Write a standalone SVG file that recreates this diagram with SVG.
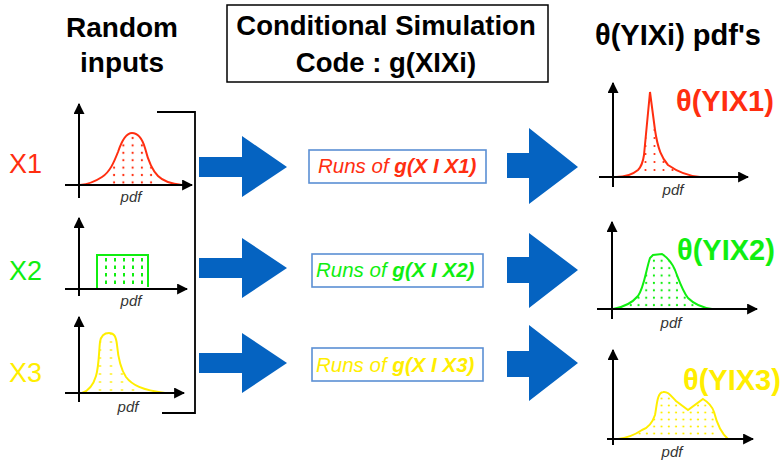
<svg xmlns="http://www.w3.org/2000/svg" width="784" height="462" viewBox="0 0 784 462">
<style>
.hd{font-family:"Liberation Sans",Arial,sans-serif;font-weight:bold;fill:#000;text-anchor:middle}
.xl{font-family:"Liberation Sans",Arial,sans-serif;font-size:27px}
.pdf{font-family:"Liberation Sans",Arial,sans-serif;font-size:15px;font-style:italic;fill:#333;text-anchor:middle}
.th{font-family:"Liberation Sans",Arial,sans-serif;font-weight:bold;font-size:29px}
.ax{stroke:#000;stroke-width:2;fill:none}
.box{fill:#fff;stroke:#5B8FD4;stroke-width:1.6}
.rt{font-family:"Liberation Sans",Arial,sans-serif;font-size:20.5px;font-style:italic}
.arr{fill:#0563C1}
.red{stroke:#FF2E10;fill:none;stroke-width:2}
.grn{stroke:#10EE10;fill:none;stroke-width:2}
.yel{stroke:#FFEE00;fill:none;stroke-width:2}
</style>
<defs>
<marker id="ah" viewBox="0 0 10 10" refX="9" refY="5" markerWidth="5.5" markerHeight="5.5" orient="auto" markerUnits="strokeWidth"><path d="M0,0 L10,5 L0,10 z" fill="#000"/></marker>
<pattern id="dR1" patternUnits="userSpaceOnUse" x="109.5" y="134.3" width="9.25" height="7.4"><circle cx="4.6" cy="3.7" r="1.1" fill="#FF2E10"/></pattern>
<pattern id="dR2" patternUnits="userSpaceOnUse" x="641" y="134" width="9" height="8"><circle cx="4.5" cy="4" r="1.1" fill="#FF2E10"/></pattern>
<pattern id="dG" patternUnits="userSpaceOnUse" x="627" y="257" width="7.7" height="7.4"><circle cx="3.8" cy="3.7" r="1.1" fill="#10EE10"/></pattern>
<pattern id="dY1" patternUnits="userSpaceOnUse" x="94.5" y="338" width="11" height="8"><circle cx="5.5" cy="4" r="1.1" fill="#FFEE00"/></pattern>
<pattern id="dY2" patternUnits="userSpaceOnUse" x="636" y="395" width="7.3" height="7"><circle cx="3.6" cy="3.5" r="1.1" fill="#FFEE00"/></pattern>
<clipPath id="cR1"><rect x="110" y="120" width="46" height="64"/></clipPath>
<clipPath id="cR2"><rect x="642" y="120" width="36" height="56"/></clipPath>
<clipPath id="cG"><rect x="628" y="250" width="70" height="58"/></clipPath>
<clipPath id="cY1"><rect x="96" y="330" width="42" height="62"/></clipPath>
<clipPath id="cY2"><rect x="638" y="385" width="80" height="53"/></clipPath>
</defs>

<g id="title-random">
<text class="hd" x="122" y="37" font-size="28">Random</text>
<text class="hd" x="122" y="72" font-size="28">inputs</text>
</g>
<g id="title-code">
<rect x="227" y="5" width="321" height="77" fill="#fff" stroke="#000" stroke-width="1.5"/>
<text class="hd" x="386" y="35" font-size="27.5">Conditional Simulation</text>
<text class="hd" x="386" y="72" font-size="27.5">Code : g(XIXi)</text>
</g>
<g id="title-theta">
<text class="hd" x="678" y="45" font-size="29">θ(YIXi) pdf's</text>
</g>

<g id="x1">
<text class="xl" x="9" y="173" fill="#FF2E10">X1</text>
<path d="M80,185 C90,184 96,181 102,177 C110,172 114,162 118,152 C122,140 126,133 132,133 C138,133 142,138 145,148 C148,160 152,170 158,176 C164,182 172,184 182,185 L80,185 z" fill="url(#dR1)" clip-path="url(#cR1)"/>
<path class="red" d="M72,185 L80,185 C90,184 96,181 102,177 C110,172 114,162 118,152 C122,140 126,133 132,133 C138,133 142,138 145,148 C148,160 152,170 158,176 C164,182 172,184 182,185"/>
<line class="ax" x1="79" y1="198" x2="79" y2="104" marker-end="url(#ah)"/>
<line class="ax" x1="65" y1="185" x2="192" y2="185" marker-end="url(#ah)"/>
<text class="pdf" x="131" y="202">pdf</text>
</g>

<g id="x2">
<text class="xl" x="9" y="280" fill="#10EE10">X2</text>
<path class="grn" d="M97,289 V255 H148 V287"/>
<g class="grn" stroke-dasharray="3.5,4">
<line x1="106" y1="258" x2="106" y2="289"/>
<line x1="115" y1="258" x2="115" y2="289"/>
<line x1="124" y1="258" x2="124" y2="289"/>
<line x1="133" y1="258" x2="133" y2="289"/>
<line x1="142" y1="258" x2="142" y2="289"/>
</g>
<line class="ax" x1="79" y1="296" x2="79" y2="218" marker-end="url(#ah)"/>
<line class="ax" x1="65" y1="289" x2="187" y2="289" marker-end="url(#ah)"/>
<text class="pdf" x="131" y="306">pdf</text>
</g>

<g id="x3">
<text class="xl" x="9" y="382" fill="#FFEE00">X3</text>
<path d="M82,393 C88,391 93,386 96,376 C99,366 99,350 100,342 C101,336 104,333 109,333 C114,333 116,336 117,345 C118,356 120,368 126,377 C132,385 142,390 165,393 z" fill="url(#dY1)" clip-path="url(#cY1)"/>
<path class="yel" d="M82,393 C88,391 93,386 96,376 C99,366 99,350 100,342 C101,336 104,333 109,333 C114,333 116,336 117,345 C118,356 120,368 126,377 C132,385 142,390 165,393"/>
<line class="ax" x1="79" y1="402" x2="79" y2="317" marker-end="url(#ah)"/>
<line class="ax" x1="65" y1="393" x2="184" y2="393" marker-end="url(#ah)"/>
<text class="pdf" x="128" y="412">pdf</text>
</g>

<g id="runs1">
<rect class="box" x="309" y="150" width="177" height="33"/>
<text class="rt" x="318" y="173" fill="#FF2E10">Runs of <tspan font-weight="bold">g(X I X1)</tspan></text>
</g>
<g id="runs2">
<rect class="box" x="312" y="254" width="171" height="33"/>
<text class="rt" x="316" y="277" fill="#10EE10">Runs of <tspan font-weight="bold">g(X I X2)</tspan></text>
</g>
<g id="runs3">
<rect class="box" x="312" y="348" width="171" height="33"/>
<text class="rt" x="316" y="372" fill="#FFEE00">Runs of <tspan font-weight="bold">g(X I X3)</tspan></text>
</g>

<g id="y1">
<path d="M616,177 C625,177 632,175 638,170 C641,167 643,162 644,155 L650,92 L655,130 C658,150 662,158 668,165 C678,172 688,176 700,177 z" fill="url(#dR2)" clip-path="url(#cR2)"/>
<path class="red" d="M616,177 C625,177 632,175 638,170 C641,167 643,162 644,155 L650,92 L655,130 C658,150 662,158 668,165 C678,172 688,176 700,177"/>
<line class="ax" x1="613" y1="187" x2="613" y2="83" marker-end="url(#ah)"/>
<line class="ax" x1="599" y1="177" x2="748" y2="177" marker-end="url(#ah)"/>
<text class="pdf" x="673" y="195">pdf</text>
<text class="th" x="676" y="111" fill="#FF2E10">θ(YIX1)</text>
</g>

<g id="y2">
<path d="M613,309 C625,307 632,303 638,296 C644,288 646,270 650,258 L653,255 L662,254 C668,258 672,263 675,270 C679,280 682,290 688,298 C695,305 705,308 712,309 z" fill="url(#dG)" clip-path="url(#cG)"/>
<path class="grn" d="M613,309 C625,307 632,303 638,296 C644,288 646,270 650,258 L653,255 L662,254 C668,258 672,263 675,270 C679,280 682,290 688,298 C695,305 705,308 712,309"/>
<line class="ax" x1="612" y1="319" x2="612" y2="222" marker-end="url(#ah)"/>
<line class="ax" x1="597" y1="309" x2="757" y2="309" marker-end="url(#ah)"/>
<text class="pdf" x="671" y="328">pdf</text>
<text class="th" x="677" y="260" fill="#10EE10">θ(YIX2)</text>
</g>

<g id="y3">
<path d="M618,439 C628,438 636,434 642,430 C648,428 652,424 655,415 C657,405 657,393 663,392 C668,391 671,396 676,401 L688,410 L703,399 C708,402 712,406 714,412 C716,420 720,432 728,439 z" fill="url(#dY2)" clip-path="url(#cY2)"/>
<path class="yel" d="M618,439 C628,438 636,434 642,430 C648,428 652,424 655,415 C657,405 657,393 663,392 C668,391 671,396 676,401 L688,410 L703,399 C708,402 712,406 714,412 C716,420 720,432 728,439"/>
<line class="ax" x1="613" y1="445" x2="613" y2="350" marker-end="url(#ah)"/>
<line class="ax" x1="607" y1="439" x2="753" y2="439" marker-end="url(#ah)"/>
<text class="pdf" x="672" y="457">pdf</text>
<text class="th" x="683" y="390" fill="#FFEE00">θ(YIX3)</text>
</g>

<g id="connectors">
<path d="M157,112 H195 V413 H162" fill="none" stroke="#000" stroke-width="1.8"/>
<polygon class="arr" points="199,157 242,157 242,136 287,167 242,197 242,177 199,177"/>
<polygon class="arr" points="199,258 242,258 242,238 287,268 242,298 242,278 199,278"/>
<polygon class="arr" points="199,353 242,353 242,333 287,363 242,393 242,373 199,373"/>
<polygon class="arr" points="507,153 529,153 529,128 578,167 529,204 529,178 507,178"/>
<polygon class="arr" points="507,257 529,257 529,233 578,270 529,308 529,283 507,283"/>
<polygon class="arr" points="507,351 529,351 529,325 578,363 529,401 529,377 507,377"/>
</g>
</svg>
